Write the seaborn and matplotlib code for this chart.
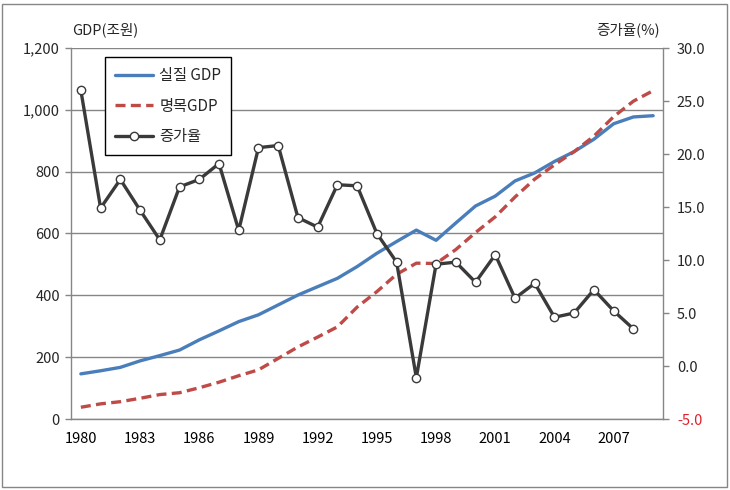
import matplotlib
matplotlib.use("Agg")
import matplotlib.pyplot as plt
from matplotlib.patches import Rectangle
from matplotlib.ticker import FixedLocator
import seaborn as sns
import pandas as pd

years = list(range(1980, 2010))
real_gdp = [146, 156, 167, 188, 205, 223, 256, 285, 315, 337, 369, 401, 428, 455, 493,
            536, 574, 611, 578, 634, 689, 721, 770, 796, 833, 865, 905, 955, 977, 981]
nominal_gdp = [38, 49, 56, 67, 79, 85, 101, 119, 140, 159, 196, 233, 265, 298, 362,
               412, 468, 504, 503, 548, 603, 654, 718, 776, 822, 865, 915, 978, 1028, 1062]
growth_years = list(range(1980, 2009))
growth = [26.0, 14.9, 17.6, 14.7, 11.9, 16.9, 17.6, 19.1, 12.8, 20.6, 20.8, 14.0, 13.1, 17.1, 17.0,
          12.5, 9.8, -1.1, 9.6, 9.8, 7.9, 10.5, 6.4, 7.8, 4.6, 5.0, 7.2, 5.2, 3.5]

left_ticks = [0, 200, 400, 600, 800, 1000, 1200]
left_labels = ["0", "200", "400", "600", "800", "1,000", "1,200"]
right_ticks = [-5, 0, 5, 10, 15, 20, 25, 30]
year_labels = [1980, 1983, 1986, 1989, 1992, 1995, 1998, 2001, 2004, 2007]

gdp = pd.DataFrame({"year": years, "real": real_gdp, "nominal": nominal_gdp})
rate = pd.DataFrame({"year": growth_years, "growth": growth})

sns.set_style("white")
plt.rcParams["font.family"] = ["Noto Sans CJK KR", "DejaVu Sans"]

grey = "#868686"
blue = "#4A7EBB"
red = "#BE4B48"
dark = "#3A3A3A"

fig = plt.figure(figsize=(7.3, 4.9), dpi=100)
ax = fig.add_axes([71 / 730, 1 - 419 / 490, (663 - 71) / 730, (419 - 48) / 490])
ax2 = ax.twinx()

sns.lineplot(data=gdp, x="year", y="real", ax=ax, color=blue, linewidth=2.4, label="실질 GDP")
sns.lineplot(data=gdp, x="year", y="nominal", ax=ax, color=red, linewidth=2.4,
             linestyle=(0, (3, 1.6)), label="명목GDP")
sns.lineplot(data=rate, x="year", y="growth", ax=ax2, color=dark, linewidth=2.4,
             marker="o", markersize=6, markerfacecolor="white", markeredgecolor=dark,
             markeredgewidth=1, label="증가율")

ax.set_xlim(1979.5, 2009.5)
ax.set_ylim(0, 1200)
ax2.set_ylim(-5, 30)

ax.set_yticks(left_ticks)
ax.set_yticklabels(left_labels)
ax2.set_yticks(right_ticks)
ax2.set_yticklabels([f"{v:.1f}" for v in right_ticks])
ax2.get_yticklabels()[0].set_color("#E0202A")

ax.set_xticks(year_labels)
ax.set_xticklabels([str(y) for y in year_labels])
ax.xaxis.set_minor_locator(FixedLocator([y - 0.5 for y in years] + [2009.5]))
ax.tick_params(axis="x", which="major", length=0, pad=9, labelsize=10.5, colors="black")
ax.tick_params(axis="x", which="minor", length=4, width=1, color=grey, direction="out")
ax.tick_params(axis="y", length=4, width=1, color=grey, direction="out", labelsize=10.5, pad=4)
ax2.tick_params(axis="y", length=4, width=1, color=grey, direction="out", labelsize=10.5, pad=6)

ax.grid(axis="y", color=grey, linewidth=1)
ax.set_axisbelow(True)
ax.set_xlabel("")
ax.set_ylabel("")
ax2.set_xlabel("")
ax2.set_ylabel("")

for a in (ax, ax2):
    a.spines["top"].set_visible(False)
    for s in ("left", "right", "bottom"):
        a.spines[s].set_color(grey)
        a.spines[s].set_linewidth(1)
ax.spines["right"].set_visible(False)
ax2.spines["left"].set_visible(False)
ax2.spines["bottom"].set_visible(False)

ax.get_legend().remove()
ax2.get_legend().remove()
h1, l1 = ax.get_legend_handles_labels()
h2, l2 = ax2.get_legend_handles_labels()
leg = ax2.legend(h1 + h2, l1 + l2, loc="upper left", bbox_to_anchor=(105 / 730, 1 - 57 / 490),
                 bbox_transform=fig.transFigure, frameon=True, fancybox=False, framealpha=1,
                 edgecolor="black", fontsize=11, handlelength=2.5, labelspacing=0.9,
                 borderpad=0.65, handletextpad=0.4, borderaxespad=0)
leg.get_frame().set_linewidth(1)
leg.set_zorder(10)

fig.text(72 / 730, 1 - 30 / 490, "GDP(조원)", ha="left", va="center", fontsize=10.5)
fig.text(660 / 730, 1 - 30 / 490, "증가율(%)", ha="right", va="center", fontsize=10.5)

fig.patches.append(Rectangle((2 / 730, 3 / 490), 725 / 730, 483 / 490, transform=fig.transFigure,
                             fill=False, edgecolor=grey, linewidth=1))

fig.savefig("out.png", dpi=100)
